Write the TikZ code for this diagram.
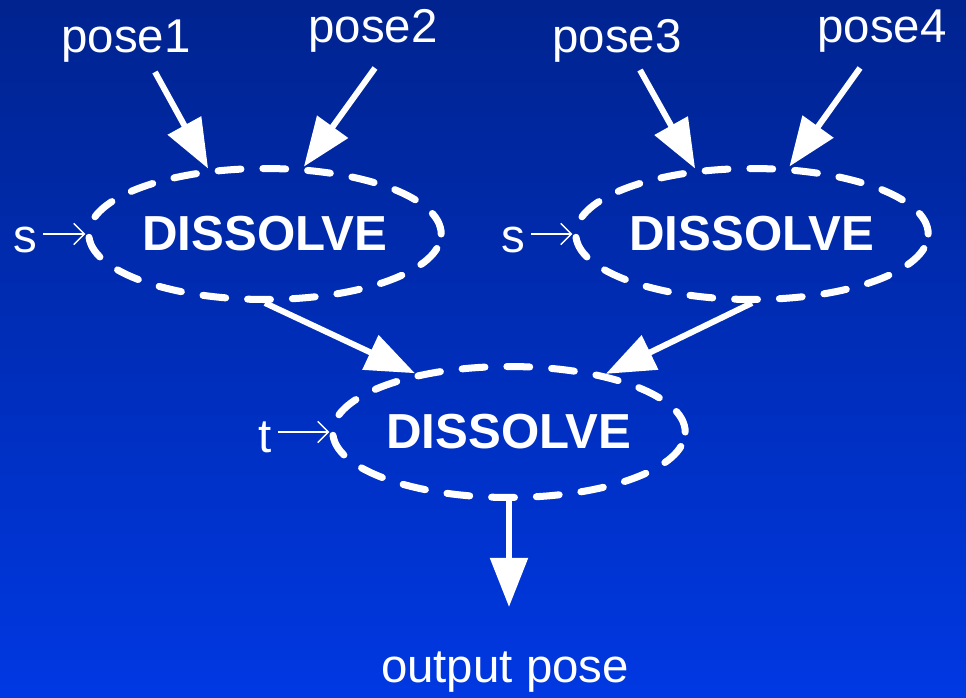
\documentclass[tikz,border=0pt]{standalone}
\usepackage{fontspec}
\setmainfont{Liberation Sans}
\usetikzlibrary{arrows.meta,positioning,shapes.geometric}
\definecolor{bgtop}{RGB}{0,35,143}
\definecolor{bgbottom}{RGB}{0,56,226}
\tikzstyle{dissolve graph}=[
    x=0.02cm, y=-0.02cm,
    every node/.style={text=white, font=\fontsize{27}{31}\selectfont},
    blend/.style={
        ellipse, draw=white, line width=4pt, line cap=round,
        dash pattern=on 13pt off 12.5pt, inner sep=0pt,
        minimum width=7.05cm, minimum height=2.62cm,
        font=\fontsize{28}{32}\selectfont\bfseries,
    },
    feed/.style={-{Triangle[length=28pt,width=21pt]}, draw=white, line width=3.4pt},
    weight/.style={-{Straight Barb[length=6pt,width=12pt]}, draw=white, line width=0.8pt},
]
\newcommand{\blendop}{DISSOLVE}

\begin{document}
\begin{tikzpicture}[dissolve graph]
        \shade[top color=bgtop, bottom color=bgbottom] (0,0) rectangle (966,697);
        \useasboundingbox (0,0) rectangle (966,697);

        % blend nodes
        \node[blend] (d1) at (265,234) {\blendop};
        \node[blend] (d2) at (752,234) {\blendop};
        \node[blend] (d3) at (509,432) {\blendop};

        % inputs
        \node (p1) at (126,41) {pose1};
        \node (p2) at (373,31) {pose2};
        \node (p3) at (617,41) {pose3};
        \node (p4) at (882,31) {pose4};
        \node (out) at (505,672) {output pose};

        \node (s1) at (25,240) {s};
        \node (s2) at (513,240) {s};
        \node (t3) at (265,437) {t};

        \coordinate (p1a) at (155,72);
        \coordinate (p2a) at (375,68);
        \coordinate (p3a) at (640,70);
        \coordinate (p4a) at (860,68);
        \coordinate (outa) at (509,607);

        \path
            (p1a) edge[feed] (d1.131)
            (p2a) edge[feed] (d1.60)
            (p3a) edge[feed] (d2.131)
            (p4a) edge[feed] (d2.61)
            (d1.south) edge[feed] (d3.148)
            (d2.south) edge[feed] (d3.31)
            (d3.south) edge[feed] (outa)
        ;
        \draw[weight] (s1.east |- d1.west) -- (d1.west);
        \draw[weight] (s2.east |- d2.west) -- (d2.west);
        \draw[weight] (t3.east |- d3.west) -- (d3.west);
    \end{tikzpicture}
\end{document}
